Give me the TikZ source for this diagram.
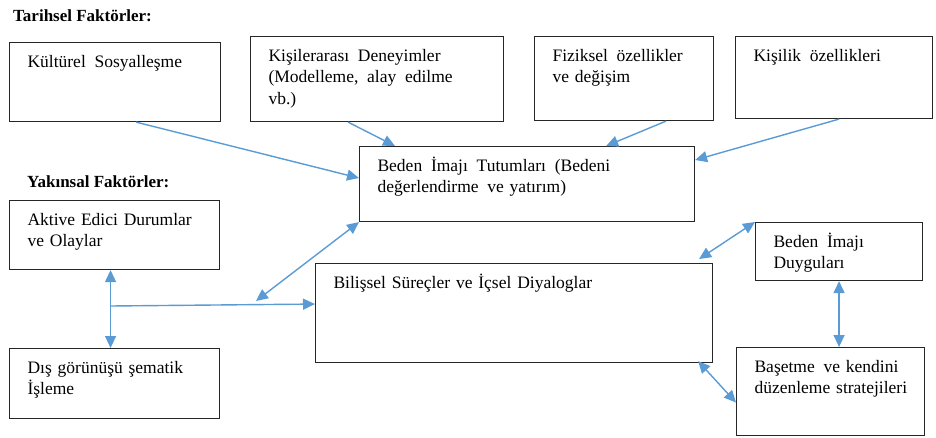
\documentclass[tikz,border=0pt]{standalone}
\usepackage{fontspec}
\setmainfont{Liberation Serif}
\newfontfamily\serifyazi{Liberation Serif}
\usepackage{tikz}
\usetikzlibrary{arrows.meta}
\definecolor{okmavi}{RGB}{91,155,213}
\tikzset{
  kutu/.style={draw=black!85, line width=1.1pt, anchor=north west, align=left,
    inner xsep=18pt, inner ysep=0pt, text height=24.5pt,
    font=\serifyazi\fontsize{17.5}{21.5}\selectfont},
  baslik/.style={anchor=base west, inner sep=0pt, font=\serifyazi\fontsize{17}{20}\selectfont\bfseries},
  ok/.style={draw=okmavi, line width=1.4pt, -{Triangle[length=12pt,width=11pt]}},
  cift/.style={ok, {Triangle[length=12pt,width=11pt]}-{Triangle[length=12pt,width=11pt]}}
}
\begin{document}
\begin{tikzpicture}[x=1pt,y=-1pt]
\useasboundingbox (0,0) rectangle (936,437);
\node[baslik] (tarih) at (13,21) {Tarihsel Faktörler:};
\node[baslik] (yakin) at (27,187) {Yakınsal Faktörler:};

\node[kutu, text width=175pt, text depth=54.5pt] (kultur) at (9,42) {Kültürel\, Sosyalleşme};
\node[kutu, text width=217pt, text depth=60.5pt] (kisiler) at (250,36) {Kişilerarası\, Deneyimler\\(Modelleme,\, alay\, edilme\\vb.)};
\node[kutu, text width=143pt, text depth=59.5pt] (fizik) at (534,36) {Fiziksel\, özellikler\\ve değişim};
\node[kutu, text width=161pt, text depth=57.5pt] (kisilik) at (735,36) {Kişilik\, özellikleri};
\node[kutu, text width=299pt, text depth=50.5pt] (tutum) at (359,146) {Beden\, İmajı\, Tutumları\, (Bedeni\\değerlendirme\, ve yatırım)};
\node[kutu, text width=174pt, text depth=44.5pt] (aktive) at (9,200) {Aktive Edici Durumlar\\ve Olaylar};
\node[kutu, text width=361pt, text depth=74.5pt] (bilis) at (315,263) {Bilişsel Süreçler ve İçsel Diyaloglar};
\node[kutu, text width=131pt, text depth=33.5pt] (duygu) at (755,222) {Beden\, İmajı\\Duyguları};
\node[kutu, text width=174pt, text depth=45.5pt] (dis) at (9,348) {Dış görünüşü şematik\\İşleme};
\node[kutu, text width=152pt, text depth=63.5pt] (baset) at (736,347) {Başetme\, ve kendini\\\mbox{düzenleme stratejileri}};

\coordinate (kol) at (110,306);
\coordinate (kesis) at (256,301);

\draw[ok] ([xshift=21pt]kultur.south) -- ([yshift=6pt]tutum.west);
\draw[ok] ([xshift=-29pt]kisiler.south) -- ([xshift=36pt]tutum.north west);
\draw[ok] ([xshift=42pt]fizik.south) -- ([xshift=-89pt]tutum.north east);
\draw[ok] ([xshift=5pt]kisilik.south) -- ([yshift=-14pt]tutum.north east);
\draw[cift] (kesis) -- (tutum.south west);
\draw[cift] ([xshift=-4pt]aktive.south) -- ([xshift=-4pt]dis.north);
\draw[ok] (kol) -- ([yshift=9pt]bilis.west);
\draw[cift] ([xshift=-14pt,yshift=4pt]bilis.north east) -- (duygu.north west);
\draw[cift] (duygu.south) -- (duygu.south |- baset.north);
\draw[cift] ([xshift=-15pt,yshift=2pt]bilis.south east) -- ([yshift=-11pt]baset.west);
\end{tikzpicture}
\end{document}
